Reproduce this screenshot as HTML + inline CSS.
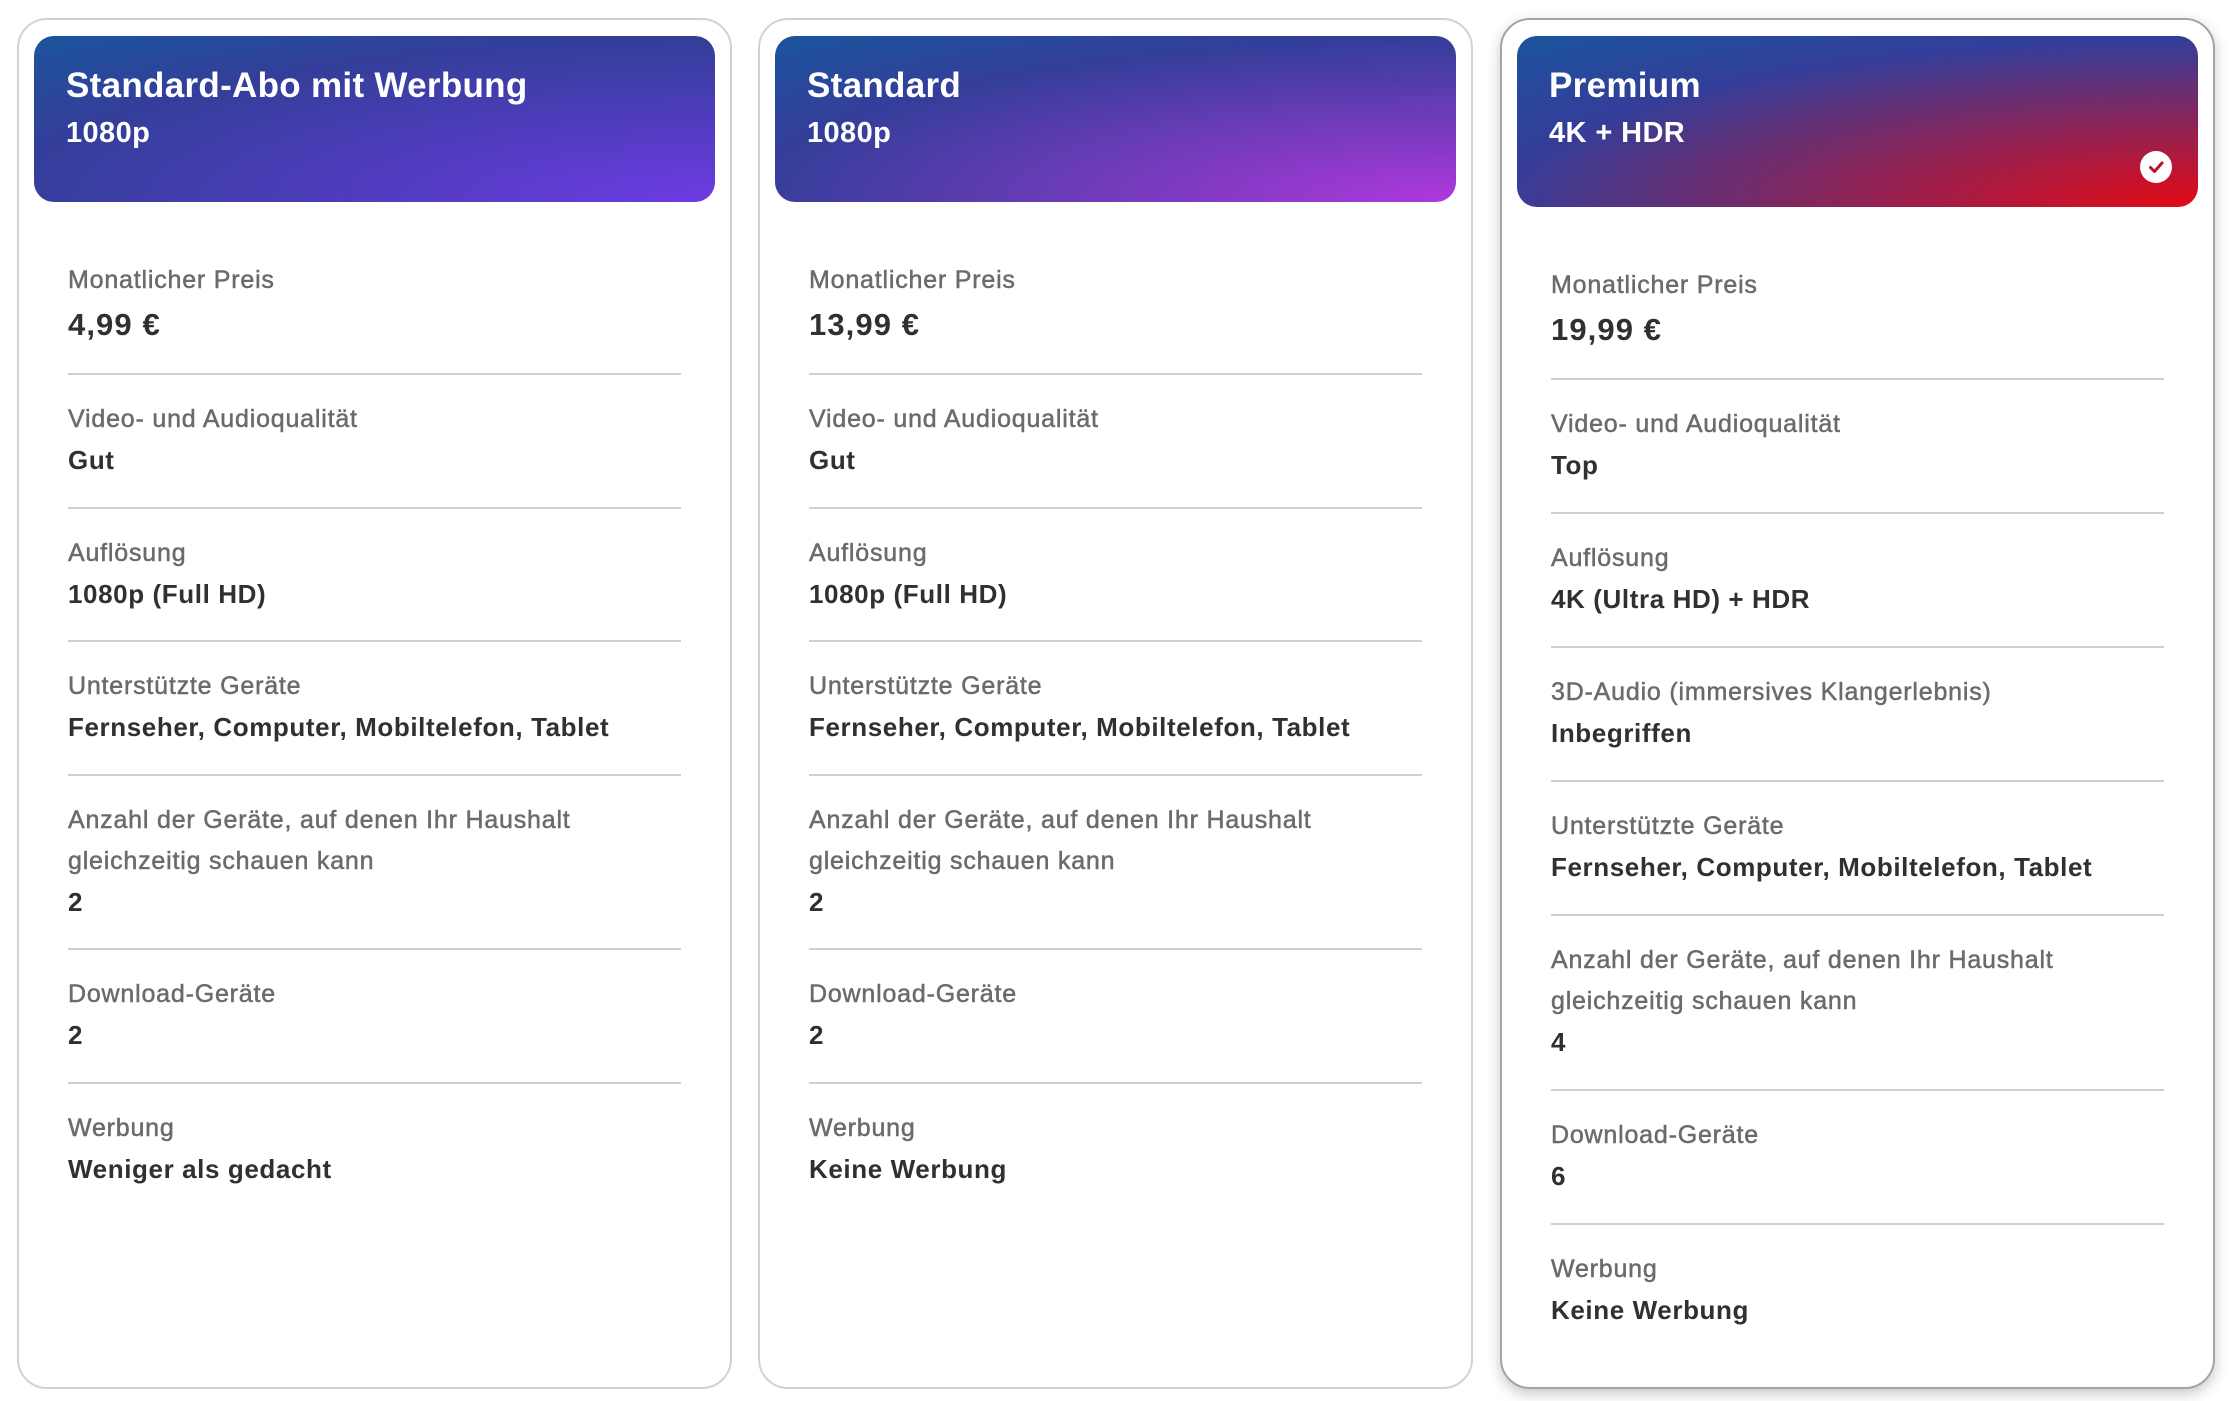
<!DOCTYPE html>
<html>
<head>
<meta charset="utf-8">
<style>
html,body{margin:0;padding:0;background:#fff;}
body{width:2230px;height:1401px;position:relative;overflow:hidden;font-family:"Liberation Sans",Arial,sans-serif;}
.card{position:absolute;top:18px;width:715px;height:1371px;box-sizing:border-box;border:2px solid #d2d2d2;border-radius:30px;background:#fff;}
.card.sel{border-color:#a4a4a4;box-shadow:0 5px 14px rgba(0,0,0,0.22);}
.hdr{position:absolute;left:15px;top:16px;width:681px;height:166px;border-radius:20px;box-sizing:border-box;padding:29.5px 0 0 32px;color:#fff;}
.sel .hdr{height:171px;}
.h1{font-size:35px;font-weight:bold;line-height:40px;letter-spacing:0.3px;}
.h2{font-size:29px;font-weight:bold;line-height:40px;letter-spacing:0.4px;margin-top:7px;}
.g1{background:radial-gradient(140.76% 131.96% at 100% 100%, rgb(109,59,227) 0%, rgba(74,42,150,0.5) 73.57%, rgba(74,42,150,0) 100%), rgb(29,82,157);}
.g2{background:radial-gradient(140.76% 131.96% at 100% 100%, rgb(176,56,220) 0%, rgba(74,42,150,0.5) 73.57%, rgba(74,42,150,0) 100%), rgb(29,82,157);}
.g3{background:radial-gradient(140.76% 131.96% at 100% 100%, rgb(229,9,20) 0%, rgba(74,42,150,0.5) 73.57%, rgba(74,42,150,0) 100%), rgb(29,82,157);}
.chk{position:absolute;left:623px;top:115px;width:32px;height:32px;border-radius:50%;background:#fff;}
.content{position:absolute;left:49px;top:240px;width:613px;}
.sel .content{top:245px;}
.sec{border-bottom:2px solid #cfcfcf;padding:24px 0 26.5px 0;}
.sel .sec{padding-bottom:27px;}
.sec.first{padding-top:0;padding-bottom:24px;}
.sel .sec.first{padding-bottom:24px;}
.sec.last{border-bottom:none;}
.lab{font-size:25px;line-height:41px;color:#6b6b6b;letter-spacing:0.8px;-webkit-text-stroke:0.5px #6b6b6b;}
.val{font-size:26px;line-height:40px;color:#303030;font-weight:bold;letter-spacing:0.6px;}
.price{font-size:31px;line-height:48px;color:#303030;font-weight:bold;letter-spacing:1.1px;}
</style>
</head>
<body>

<div class="card" style="left:17px;">
  <div class="hdr g1">
    <div class="h1">Standard-Abo mit Werbung</div>
    <div class="h2">1080p</div>
  </div>
  <div class="content">
    <div class="sec first"><div class="lab">Monatlicher Preis</div><div class="price">4,99 €</div></div>
    <div class="sec"><div class="lab">Video- und Audioqualität</div><div class="val">Gut</div></div>
    <div class="sec"><div class="lab">Auflösung</div><div class="val">1080p (Full HD)</div></div>
    <div class="sec"><div class="lab">Unterstützte Geräte</div><div class="val">Fernseher, Computer, Mobiltelefon, Tablet</div></div>
    <div class="sec"><div class="lab">Anzahl der Geräte, auf denen Ihr Haushalt<br>gleichzeitig schauen kann</div><div class="val">2</div></div>
    <div class="sec"><div class="lab">Download-Geräte</div><div class="val">2</div></div>
    <div class="sec last"><div class="lab">Werbung</div><div class="val">Weniger als gedacht</div></div>
  </div>
</div>

<div class="card" style="left:758px;">
  <div class="hdr g2">
    <div class="h1">Standard</div>
    <div class="h2">1080p</div>
  </div>
  <div class="content">
    <div class="sec first"><div class="lab">Monatlicher Preis</div><div class="price">13,99 €</div></div>
    <div class="sec"><div class="lab">Video- und Audioqualität</div><div class="val">Gut</div></div>
    <div class="sec"><div class="lab">Auflösung</div><div class="val">1080p (Full HD)</div></div>
    <div class="sec"><div class="lab">Unterstützte Geräte</div><div class="val">Fernseher, Computer, Mobiltelefon, Tablet</div></div>
    <div class="sec"><div class="lab">Anzahl der Geräte, auf denen Ihr Haushalt<br>gleichzeitig schauen kann</div><div class="val">2</div></div>
    <div class="sec"><div class="lab">Download-Geräte</div><div class="val">2</div></div>
    <div class="sec last"><div class="lab">Werbung</div><div class="val">Keine Werbung</div></div>
  </div>
</div>

<div class="card sel" style="left:1500px;">
  <div class="hdr g3">
    <div class="h1">Premium</div>
    <div class="h2">4K + HDR</div>
    <div class="chk">
      <svg width="32" height="32" viewBox="0 0 32 32"><polyline points="10.5,16.5 14.5,20.5 22,12" fill="none" stroke="#b8132a" stroke-width="3" stroke-linecap="round" stroke-linejoin="round"/></svg>
    </div>
  </div>
  <div class="content">
    <div class="sec first"><div class="lab">Monatlicher Preis</div><div class="price">19,99 €</div></div>
    <div class="sec"><div class="lab">Video- und Audioqualität</div><div class="val">Top</div></div>
    <div class="sec"><div class="lab">Auflösung</div><div class="val">4K (Ultra HD) + HDR</div></div>
    <div class="sec"><div class="lab">3D-Audio (immersives Klangerlebnis)</div><div class="val">Inbegriffen</div></div>
    <div class="sec"><div class="lab">Unterstützte Geräte</div><div class="val">Fernseher, Computer, Mobiltelefon, Tablet</div></div>
    <div class="sec"><div class="lab">Anzahl der Geräte, auf denen Ihr Haushalt<br>gleichzeitig schauen kann</div><div class="val">4</div></div>
    <div class="sec"><div class="lab">Download-Geräte</div><div class="val">6</div></div>
    <div class="sec last"><div class="lab">Werbung</div><div class="val">Keine Werbung</div></div>
  </div>
</div>

</body>
</html>
